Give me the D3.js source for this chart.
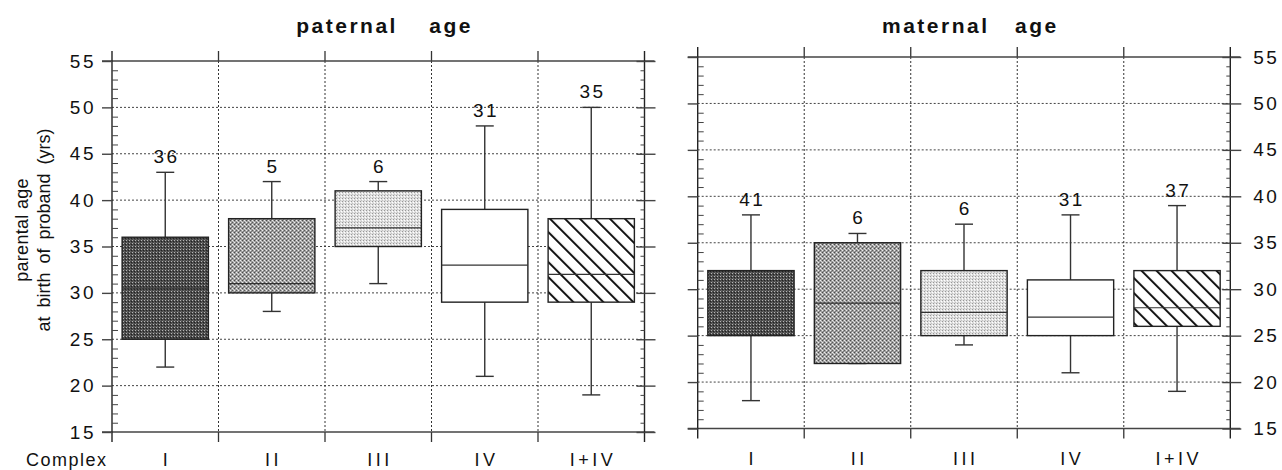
<!DOCTYPE html>
<html><head><meta charset="utf-8">
<script src="https://cdn.jsdelivr.net/npm/d3@7"></script>
<style>
body{margin:0;background:#fff}
svg{display:block}
text{font-family:Arial,"Liberation Sans",Helvetica,sans-serif;fill:#111}
</style>
</head><body>
<svg id="c" width="1282" height="470"></svg>
<script>
// ---- data ----
const categories = ["I", "II", "III", "IV", "I+IV"];
const yTicks = [15, 20, 25, 30, 35, 40, 45, 50, 55];

const paternalMin    = [22, 28, 31, 21, 19];
const paternalQ1     = [25, 30, 35, 29, 29];
const paternalMedian = [30.5, 31, 37, 33, 32];
const paternalQ3     = [36, 38, 41, 39, 38];
const paternalMax    = [43, 42, 42, 48, 50];
const paternalN      = [36, 5, 6, 31, 35];

const maternalMin    = [18, 22, 24, 21, 19];
const maternalQ1     = [25, 22, 25, 25, 26];
const maternalMedian = [28, 28.5, 27.5, 27, 28];
const maternalQ3     = [32, 35, 32, 31, 32];
const maternalMax    = [38, 36, 37, 38, 39];
const maternalN      = [41, 6, 6, 31, 37];

const fills = ["url(#pDark)", "url(#pMid)", "url(#pLight)", "#fff", "url(#pHatch)"];

const svg = d3.select("#c");
const defs = svg.append("defs");

// halftone-like patterns
function pat(id, size, bg, dots) {
  const p = defs.append("pattern").attr("id", id).attr("patternUnits", "userSpaceOnUse")
    .attr("width", size).attr("height", size);
  p.append("rect").attr("width", size).attr("height", size).attr("fill", bg);
  dots.forEach(d => p.append("rect").attr("x", d[0]).attr("y", d[1]).attr("width", 1).attr("height", 1).attr("fill", d[2]));
}
pat("pDark", 3, "#4a4a4a", [[0, 0, "#b5b5b5"], [2, 1, "#222222"], [1, 2, "#676767"]]);
pat("pMid", 4, "#a0a0a0", [[0, 0, "#eeeeee"], [2, 2, "#eeeeee"], [2, 0, "#4a4a4a"], [0, 2, "#5a5a5a"], [1, 1, "#cfcfcf"], [3, 3, "#7a7a7a"]]);
pat("pLight", 3, "#e0e0e0", [[0, 0, "#989898"], [2, 1, "#ffffff"], [1, 2, "#c2c2c2"]]);
const ph = defs.append("pattern").attr("id", "pHatch").attr("patternUnits", "userSpaceOnUse")
  .attr("width", 10.6).attr("height", 10).attr("patternTransform", "rotate(-45)");
ph.append("rect").attr("width", 10.6).attr("height", 10).attr("fill", "#fff");
ph.append("line").attr("x1", 1).attr("x2", 1).attr("y1", -1).attr("y2", 11).attr("stroke", "#111").attr("stroke-width", 2);

function panel(o) {
  const g = svg.append("g");
  const y = d3.scaleLinear().domain([15, 55]).range([o.yBot, o.yTop]);
  const x = d3.scaleBand().domain(categories).range([o.x0, o.x1]).padding(0);
  const bw = x.bandwidth();
  const minor = d3.range(15, 56).filter(v => v % 5 !== 0);
  const yGrid = yTicks.filter(v => v > 15 && v < 55);

  // dotted grid
  g.selectAll(".hg").data(yGrid).enter().append("line")
    .attr("x1", o.x0).attr("x2", o.x1).attr("y1", d => y(d)).attr("y2", d => y(d))
    .attr("stroke", "#444").attr("stroke-width", 1).attr("stroke-dasharray", "2,2");
  const inner = categories.slice(1);
  g.selectAll(".vg").data(inner).enter().append("line")
    .attr("x1", d => x(d)).attr("x2", d => x(d)).attr("y1", o.yTop).attr("y2", o.yBot)
    .attr("stroke", "#333").attr("stroke-width", 1).attr("stroke-dasharray", "2,2");
  // solid column ticks at top & bottom
  g.selectAll(".vt").data(inner).enter().append("line")
    .attr("x1", d => x(d)).attr("x2", d => x(d)).attr("y1", o.yTop - 10).attr("y2", o.yTop)
    .attr("stroke", "#333").attr("stroke-width", 1.3);
  g.selectAll(".vb").data(inner).enter().append("line")
    .attr("x1", d => x(d)).attr("x2", d => x(d)).attr("y1", o.yBot).attr("y2", o.yBot + 10)
    .attr("stroke", "#333").attr("stroke-width", 1.3);

  // top/bottom frame lines
  [55, 15].forEach(v => g.append("line").attr("x1", o.x0 - 10).attr("x2", o.x1 + 10)
    .attr("y1", y(v)).attr("y2", y(v)).attr("stroke", "#444").attr("stroke-width", 1.5));
  // side axes lines
  [o.x0, o.x1].forEach(xx => g.append("line").attr("x1", xx).attr("x2", xx)
    .attr("y1", o.yTop - 10).attr("y2", o.yBot + 10).attr("stroke", "#222").attr("stroke-width", 1.4));

  // left axis: major outside, minor inside
  const la = g.append("g").attr("transform", `translate(${o.x0},0)`)
    .call(d3.axisLeft(y).tickValues(yTicks).tickSize(10).tickSizeOuter(0).tickPadding(6)
      .tickFormat(o.leftLabels ? d3.format("d") : () => ""));
  la.select(".domain").remove();
  la.selectAll("line").attr("stroke", "#444").attr("stroke-width", 1.4);
  la.selectAll("text").attr("font-size", 19).attr("letter-spacing", 2.5).attr("fill", "#111");
  const lm = g.append("g").attr("transform", `translate(${o.x0},0)`)
    .call(d3.axisRight(y).tickValues(minor).tickSize(6).tickSizeOuter(0).tickFormat(() => ""));
  lm.select(".domain").remove();
  lm.selectAll("line").attr("stroke", "#444").attr("stroke-width", 1);

  // right axis: major both sides, minor inside
  const ra = g.append("g").attr("transform", `translate(${o.x1},0)`)
    .call(d3.axisRight(y).tickValues(yTicks).tickSize(11).tickSizeOuter(0).tickPadding(12)
      .tickFormat(o.rightLabels ? d3.format("d") : () => ""));
  ra.select(".domain").remove();
  ra.selectAll("line").attr("stroke", "#444").attr("stroke-width", 1.4);
  ra.selectAll("text").attr("font-size", 19).attr("letter-spacing", 2.5).attr("fill", "#111");
  const ri = g.append("g").attr("transform", `translate(${o.x1},0)`)
    .call(d3.axisLeft(y).tickValues(yTicks).tickSize(8).tickSizeOuter(0).tickFormat(() => ""));
  ri.select(".domain").remove();
  ri.selectAll("line").attr("stroke", "#444").attr("stroke-width", 1.4);
  const rm = g.append("g").attr("transform", `translate(${o.x1},0)`)
    .call(d3.axisLeft(y).tickValues(minor).tickSize(4).tickSizeOuter(0).tickFormat(() => ""));
  rm.select(".domain").remove();
  rm.selectAll("line").attr("stroke", "#444").attr("stroke-width", 1);

  // boxes
  const rows = categories.map((c, i) => ({c, i, mn: o.min[i], q1: o.q1[i], md: o.med[i], q3: o.q3[i], mx: o.max[i], n: o.n[i]}));
  const cx = d => x(d.c) + bw / 2;
  const cap = 9;
  const bg = g.selectAll(".box").data(rows).enter().append("g");
  // whiskers
  bg.append("line").attr("x1", cx).attr("x2", cx).attr("y1", d => y(d.q3)).attr("y2", d => y(d.mx))
    .attr("stroke", "#333").attr("stroke-width", 1.4);
  bg.append("line").attr("x1", cx).attr("x2", cx).attr("y1", d => y(d.q1)).attr("y2", d => y(d.mn))
    .attr("stroke", "#333").attr("stroke-width", 1.4);
  bg.append("line").attr("x1", d => cx(d) - cap).attr("x2", d => cx(d) + cap).attr("y1", d => y(d.mx)).attr("y2", d => y(d.mx))
    .attr("stroke", "#333").attr("stroke-width", 1.4);
  bg.append("line").attr("x1", d => cx(d) - cap).attr("x2", d => cx(d) + cap).attr("y1", d => y(d.mn)).attr("y2", d => y(d.mn))
    .attr("stroke", "#333").attr("stroke-width", 1.4);
  // box
  bg.append("rect").attr("x", d => x(d.c) + bw * 0.095).attr("width", bw * 0.81)
    .attr("y", d => y(d.q3)).attr("height", d => y(d.q1) - y(d.q3))
    .attr("fill", d => fills[d.i]).attr("stroke", "#222").attr("stroke-width", 1.4);
  // median
  bg.append("line").attr("x1", d => x(d.c) + bw * 0.095).attr("x2", d => x(d.c) + bw * 0.905)
    .attr("y1", d => y(d.md)).attr("y2", d => y(d.md)).attr("stroke", "#333").attr("stroke-width", 1.2);
  // counts
  bg.append("text").attr("x", d => cx(d) + 1.25).attr("y", d => y(d.mx) - 9).attr("text-anchor", "middle")
    .attr("font-size", 19).attr("letter-spacing", 2.5).text(d => d.n);

  // category labels
  g.selectAll(".cl").data(categories).enter().append("text")
    .attr("x", d => x(d) + bw / 2 + 1.75).attr("y", o.labelY).attr("text-anchor", "middle")
    .attr("font-size", 18).attr("letter-spacing", 3.5).text(d => d);

  // title
  const tc = (o.x0 + o.x1) / 2;
  g.append("text").attr("x", tc - 82).attr("y", 33).attr("font-size", 21).attr("font-weight", "bold")
    .attr("letter-spacing", 2.5).text(o.title[0]);
  g.append("text").attr("x", tc + 51).attr("y", 33).attr("font-size", 21).attr("font-weight", "bold")
    .attr("letter-spacing", 2.5).text(o.title[1]);
}

panel({x0: 112, x1: 644.5, yTop: 61, yBot: 432, min: paternalMin, q1: paternalQ1, med: paternalMedian,
  q3: paternalQ3, max: paternalMax, n: paternalN, title: ["paternal", "age"], leftLabels: true, rightLabels: false, labelY: 466});
panel({x0: 697.7, x1: 1230.3, yTop: 57, yBot: 428.5, min: maternalMin, q1: maternalQ1, med: maternalMedian,
  q3: maternalQ3, max: maternalMax, n: maternalN, title: ["maternal", "age"], leftLabels: false, rightLabels: true, labelY: 465});

// axis titles
svg.append("text").attr("transform", "translate(28,230) rotate(-90)").attr("text-anchor", "middle")
  .attr("font-size", 18).attr("letter-spacing", 0.3).text("parental age");
svg.append("text").attr("transform", "translate(50,230) rotate(-90)").attr("text-anchor", "middle")
  .attr("font-size", 18).attr("word-spacing", 4).text("at birth of proband (yrs)");
svg.append("text").attr("x", 26).attr("y", 466).attr("font-size", 18).attr("letter-spacing", 1.5).text("Complex");
</script>
</body></html>
